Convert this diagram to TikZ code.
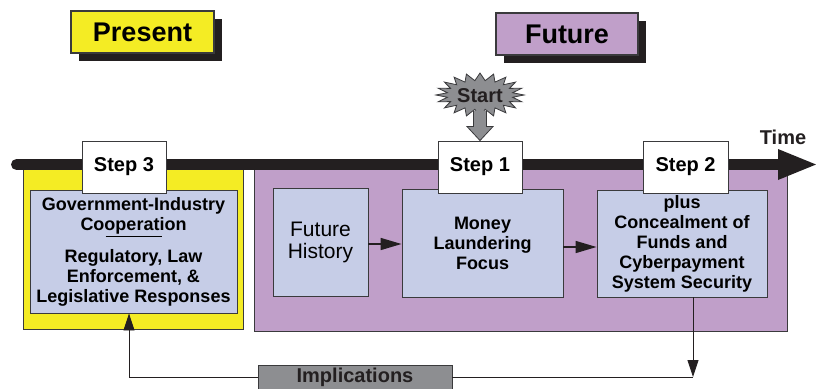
\documentclass[tikz,border=0pt]{standalone}
\usepackage{fontspec}
\setmainfont{Liberation Sans}
\usetikzlibrary{arrows.meta,shadows}
\definecolor{dark}{HTML}{231F20}
\definecolor{edge}{HTML}{3A3A3C}
\definecolor{yellowP}{HTML}{F4EC24}
\definecolor{purpleF}{HTML}{C09FC9}
\definecolor{paleblue}{HTML}{C6CDE7}
\definecolor{midgray}{HTML}{8D8E91}
\begin{document}
\begin{tikzpicture}[x=1pt,y=-1pt,
  box/.style={draw=edge, line width=0.9pt, inner sep=0pt, align=center},
  title/.style={box, line width=1.2pt, minimum width=142pt, minimum height=42pt,
    font=\fontsize{27}{30}\selectfont\bfseries,
    drop shadow={shadow xshift=8pt, shadow yshift=-8pt, fill=dark, opacity=1}},
  panel/.style={draw=edge, line width=0.9pt},
  stepbox/.style={box, fill=white, minimum width=84pt, minimum height=52pt,
    font=\fontsize{20}{22}\selectfont\bfseries},
  content/.style={box, fill=paleblue, font=\fontsize{18}{20}\selectfont\bfseries},
  conn/.style={draw=dark, line width=0.9pt},
  flow/.style={draw=dark, line width=1.6pt, -{Triangle[length=21pt,width=12pt]}},
  back/.style={conn, -{Triangle[length=17pt,width=11pt]}}
]
\clip (0,0) rectangle (816,388);

% headings
\node[title, fill=yellowP, minimum width=143pt] (present) at (142.5,32) {Present};
\node[title, fill=purpleF] (future) at (567,34) {Future};

% the two time panels
\node[panel, fill=yellowP, minimum width=220pt, minimum height=164pt] (ppanel) at (133,247) {};
\node[panel, fill=purpleF, minimum width=533pt, minimum height=166pt] (fpanel) at (520.5,248) {};

% time axis
\coordinate (tlstart) at (16.5,164.5);
\coordinate (tlend) at (816,164.5);
\draw[dark, line width=11pt, line cap=round] (tlstart) -- (780,164.5);
\fill[dark] (778,149) -- (tlend) -- (778,180) -- cycle;
\node[font=\fontsize{20}{22}\selectfont\bfseries, text=dark] (time) at (783,137) {Time};

% content boxes
\node[content, minimum width=207pt, minimum height=123pt] (s3c) at (133.5,251.5)
  {Government-Industry\\Cooperation\\[-13pt]\rule{56pt}{1.6pt}\\[5pt]Regulatory, Law\\Enforcement, \&\\Legislative Responses};
\node[box, fill=paleblue, minimum width=95pt, minimum height=108pt,
  font=\fontsize{21}{22}\selectfont] (fh) at (320.5,242) {Future\\History};
\node[content, minimum width=161pt, minimum height=108pt] (money) at (482.5,243)
  {Money\\Laundering\\Focus};
\node[content, minimum width=170pt, minimum height=107pt] (s2c) at (682,243.5)
  {plus\\Concealment of\\Funds and\\Cyberpayment\\System Security};

% step labels
\node[stepbox] (step3) at (124,167) {Step 3};
\node[stepbox] (step1) at (480,167) {Step 1};
\node[stepbox, minimum width=85pt] (step2) at (685.5,167) {Step 2};

% start burst
\draw[fill=midgray, draw=edge, line width=0.8pt]
  plot[samples=41, domain=0:40, variable=\k]
  ({480+ifthenelse(mod(round(\k),2)==0,44,33)*cos(\k*9)},
   {95+ifthenelse(mod(round(\k),2)==0,22,14.5)*sin(\k*9)}) -- cycle;
\node[font=\fontsize{20}{22}\selectfont\bfseries, text=dark] (start) at (480,96) {Start};
\fill[midgray] (step1.north) -- ++(-13,-14) -- ++(6.5,0) -- ++(0,-16) -- ++(13,0)
  -- ++(0,16) -- ++(6.5,0) -- cycle;
\draw[edge, line width=0.8pt] (step1.north) ++(-6.5,-30) -- ++(0,16) -- ++(-6.5,0)
  -- (step1.north) -- ++(13,-14) -- ++(-6.5,0) -- ++(0,-16);

% flow between boxes
\draw[flow] ([yshift=-2pt]fh.east) -- ([yshift=-2pt]fh.east -| money.west);
\draw[flow] ([yshift=-4pt]money.east) -- ([yshift=-4pt]money.east -| s2c.west);

% feedback loop
\coordinate (cR) at (693,377);
\coordinate (cL) at (129,377);
\node[box, fill=midgray, minimum width=194pt, minimum height=24pt,
  font=\fontsize{20}{22}\selectfont\bfseries, text=dark] (impl) at (355,377) {Implications};
\draw[back] (cR |- s2c.south) -- (cR);
\draw[conn] (cR) -- (impl.east);
\draw[back] (impl.west) -- (cL) -- (cL |- s3c.south);
\end{tikzpicture}
\end{document}
